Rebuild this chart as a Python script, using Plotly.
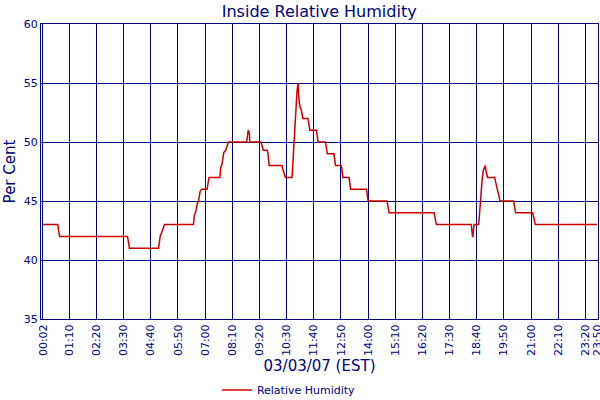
import plotly.graph_objects as go

# readings from the chart (time of day, relative humidity %)
times = ["00:02", "00:40", "00:45", "03:40", "03:45", "05:00", "05:04", "05:08",
         "05:12", "05:15", "06:30", "06:32", "06:36", "06:40", "06:43", "06:47",
         "06:51", "07:05", "07:10", "07:38", "07:40", "07:44", "07:48", "07:53",
         "07:57", "08:00", "08:47", "08:49", "08:51", "08:54", "08:55", "09:24",
         "09:30", "09:40", "09:42", "09:45", "10:18", "10:21", "10:27", "10:44",
         "10:47", "10:49", "10:52", "10:54", "10:57", "11:00", "11:01", "11:04",
         "11:08", "11:12", "11:25", "11:30", "11:47", "11:51", "12:10", "12:15",
         "12:32", "12:36", "12:51", "12:55", "13:11", "13:15", "13:56", "14:00",
         "14:49", "14:54", "16:50", "16:56", "18:26", "18:29", "18:30", "18:33",
         "18:45", "18:49", "18:51", "18:54", "18:57", "19:02", "19:04", "19:08",
         "19:26", "19:28", "19:33", "19:37", "19:40", "20:15", "20:20", "21:04",
         "21:11", "23:50"]
humidity = [43, 43, 42, 42, 41, 41, 42, 42.3,
            42.7, 43, 43, 43.8, 44.1, 44.8, 45, 45.8,
            46, 46, 47, 47, 47.8, 48.2, 49.1, 49.3,
            49.8, 50, 50, 50.7, 51, 50.7, 50, 50,
            49.3, 49.3, 49, 48, 48, 47.6, 47, 47,
            48.7, 50, 51.1, 52.8, 54.4, 55, 54, 53,
            52.7, 52, 52, 51, 51, 50, 50, 49,
            49, 48, 48, 47, 47, 46, 46, 45,
            45, 44, 44, 43, 43, 42, 42, 43,
            43, 44.7, 45.8, 46.9, 47.6, 48, 47.5, 47,
            47, 46.7, 46, 45.5, 45, 45, 44, 44,
            43, 43]

tick_times = ["00:02", "01:10", "02:20", "03:30", "04:40", "05:50", "07:00",
              "08:10", "09:20", "10:30", "11:40", "12:50", "14:00", "15:10",
              "16:20", "17:30", "18:40", "19:50", "21:00", "22:10", "23:20", "23:50"]
y_ticks = [35, 40, 45, 50, 55, 60]

day = "2007-03-03 "
navy = "#000080"

fig = go.Figure(go.Scatter(
    x=[day + t for t in times],
    y=humidity,
    mode="lines",
    name="Relative Humidity",
    line=dict(color="#cc0000", width=1.5),
))

fig.update_layout(
    width=600, height=400,
    margin=dict(l=41, r=2, t=24, b=81),
    paper_bgcolor="white", plot_bgcolor="white",
    font=dict(family="DejaVu Sans", color=navy, size=11),
    title=dict(text="Inside Relative Humidity", x=0.532, xanchor="center",
               y=0.972, yanchor="middle", font=dict(size=16, color=navy)),
    showlegend=True,
    legend=dict(orientation="h", xref="container", yref="container",
                x=0.4815, xanchor="center", y=0.025, yanchor="middle",
                font=dict(size=11, color=navy)),
    xaxis=dict(
        type="date",
        range=["2007-03-02 23:57", "2007-03-03 23:52:30"],
        tickvals=[day + t for t in tick_times],
        ticktext=tick_times,
        tickangle=-90,
        tickfont=dict(size=11, color=navy),
        ticklabeloverflow="allow",
        showgrid=True, gridcolor=navy, gridwidth=1,
        showline=True, linecolor=navy, linewidth=1, mirror=True,
        ticks="", zeroline=False, automargin=False,
        title=dict(text="03/03/07 (EST)", font=dict(size=15, color=navy), standoff=5),
    ),
    yaxis=dict(
        range=[35, 60],
        tickvals=y_ticks,
        tickfont=dict(size=11, color=navy),
        showgrid=True, gridcolor=navy, gridwidth=1,
        showline=True, linecolor=navy, linewidth=1, mirror=True,
        ticks="", zeroline=False, automargin=False,
        title=dict(text="Per Cent", font=dict(size=15, color=navy), standoff=4),
    ),
)

# drop the default page margin so the figure sits at the window's corner
fig.write_html("out.html", config={"displayModeBar": False},
               post_script="document.body.style.margin='0';")
